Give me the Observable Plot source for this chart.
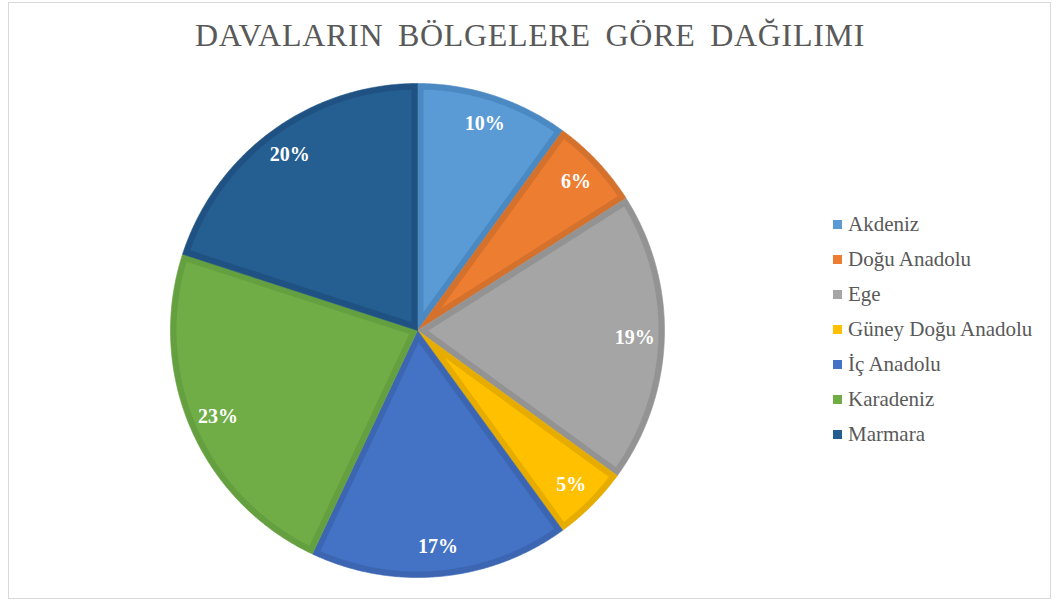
<!DOCTYPE html>
<html><head><meta charset="utf-8">
<script src="https://cdn.jsdelivr.net/npm/d3@7"></script>
<script src="https://cdn.jsdelivr.net/npm/@observablehq/plot@0.6"></script>
<style>
body{margin:0;background:#fff;}
#wrap{position:relative;width:1057px;height:601px;overflow:hidden;font-family:"Liberation Serif","Times New Roman",serif;}
#frame{position:absolute;left:8px;top:2px;width:1041px;height:595px;border:1.5px solid #d9d9d9;}
#title{position:absolute;left:8px;width:1044px;top:17px;text-align:center;font-size:32px;line-height:36px;color:#595959;white-space:nowrap;letter-spacing:0.7px;word-spacing:6px;}
#chart{position:absolute;left:150px;top:70px;}
#legend{position:absolute;left:833px;top:207px;font-size:21px;color:#595959;}
.item{height:35px;line-height:35px;white-space:nowrap;display:flex;align-items:center;}
.sw{width:9px;height:9px;margin-right:6px;flex:none;}
</style></head>
<body><div id="wrap"><div id="frame"></div><div id="title">DAVALARIN BÖLGELERE GÖRE DAĞILIMI</div><div id="chart"></div><div id="legend"></div></div>
<script>
const regions = ["Akdeniz","Doğu Anadolu","Ege","Güney Doğu Anadolu","İç Anadolu","Karadeniz","Marmara"];
const shares = [10,6,19,5,17,23,20];
const labels = ["10%","6%","19%","5%","17%","23%","20%"];
const fills = ["#5B9BD5","#ED7D31","#A5A5A5","#FFC000","#4472C4","#70AD47","#255E91"];
const borders = ["#4a89c2","#d4712c","#939393","#e6ad00","#3c66b2","#64a03f","#1f5282"];

const W = 540, H = 520, R = 247;       // pixel radius of the pie
const border = 6 / R;                   // border width in unit coordinates
const labelR = 0.88;

const arcs = d3.pie().sort(null).startAngle(0).endAngle(2*Math.PI)(shares);
const pt = (a, r) => ({x: r*Math.sin(a), y: r*Math.cos(a)});

function arcPts(a0, a1, r){
  const n = Math.max(2, Math.ceil((a1-a0)/(Math.PI/360)));
  const out = [];
  for (let k=0;k<=n;k++) out.push(pt(a0+(a1-a0)*k/n, r));
  return out;
}

const marks = [];
arcs.forEach((s,i)=>{
  const a0 = s.startAngle, a1 = s.endAngle, th = a1-a0, mid = (a0+a1)/2;
  const outer = [pt(0,0), ...arcPts(a0,a1,1), pt(0,0)];
  const rr = 1 - border;
  const dl = Math.asin(border/rr);
  const apex = pt(mid, border/Math.sin(th/2));
  const inner = [apex, ...arcPts(a0+dl, a1-dl, rr), apex];
  marks.push(Plot.line(outer, {x:"x", y:"y", fill: borders[i], stroke: borders[i], strokeWidth: 0.6}));
  marks.push(Plot.line(inner, {x:"x", y:"y", fill: fills[i], stroke: "none"}));
});
const labelData = arcs.map((s,i)=>{const m=(s.startAngle+s.endAngle)/2; return {...pt(m,labelR), text: labels[i]};});
marks.push(Plot.text(labelData, {x:"x", y:"y", text:"text", fill:"white", fontWeight:"bold", fontSize:20, fontFamily:"Liberation Serif, Times New Roman, serif"}));

const chart = Plot.plot({
  width: W, height: H,
  marginLeft: 267-R, marginRight: W-267-R, marginTop: 260-R, marginBottom: H-260-R,
  x: {domain:[-1,1], axis:null},
  y: {domain:[-1,1], axis:null},
  style: {background:"transparent", overflow:"visible"},
  marks
});
document.getElementById("chart").appendChild(chart);

const leg = document.getElementById("legend");
regions.forEach((r,i)=>{
  const it = document.createElement("div"); it.className="item";
  const sw = document.createElement("span"); sw.className="sw"; sw.style.background=fills[i];
  const tx = document.createElement("span"); tx.textContent=r;
  it.appendChild(sw); it.appendChild(tx); leg.appendChild(it);
});
</script></body></html>
